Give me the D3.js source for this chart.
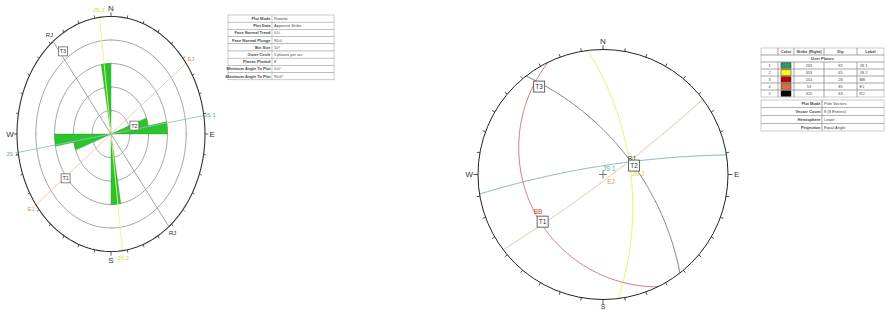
<!DOCTYPE html>
<html><head><meta charset="utf-8">
<script src="https://cdn.jsdelivr.net/npm/d3@7"></script>
<style>body{margin:0;background:#fff} svg{display:block;font-family:"Liberation Sans",Arial,sans-serif}</style>
</head><body><svg id="c" width="885" height="310"></svg>
<script>
// ---------- data ----------
const planeIds = ["1","2","3","4","5"];
const planeNames = ["JS 1","JS 2","BB","EJ","RJ"];
const planeStrikes = [261,353,154,53,322];
const planeDips = [82,65,26,85,63];
const swatchColors = ["#2e9a5e","#ffff00","#c00000","#e07030","#000000"];
const lineColors = ["#7dbcb2","#eeee66","#d07a7a","#ebc0a2","#808080"];
const rosetteLineColors = ["#8cc6bd","#f0f08a","#d08080","#ecc6aa","#9a9a9a"];
const labelColors = ["#5aa89a","#d6d640","#d04040","#d8905a","#333333"];
const rosetteShown = [true,true,false,true,true];

const binStarts = [70,80,170];      // apparent strike bins (deg), mirrored +180
const binCounts = [2,3,3];
const binSize = 10;
const outerCount = 5;

const markerNames = ["T1","T2","T3"];
const markerTrends = [232,74,324];
const markerPlunges = [27,61,8];

const compassLabels = ["N","E","S","W"];
const compassAz = [0,90,180,270];

const leftTableLabels = ["Plot Mode","Plot Data","Face Normal Trend","Face Normal Plunge","Bin Size","Outer Circle","Planes Plotted","Minimum Angle To Plot","Maximum Angle To Plot"];
const leftTableValues = ["Rosette","Apparent Strike","0.0","90.0","10°","5 planes per arc","8","0.0°","90.0°"];
const planeHeader = ["","Color","Strike (Right)","Dip","Label"];
const rightInfoLabels = ["Plot Mode","Vector Count","Hemisphere","Projection"];
const rightInfoValues = ["Pole Vectors","8 (8 Entries)","Lower","Equal Angle"];

// ---------- helpers ----------
const svg = d3.select("#c");
const rad = d => d*Math.PI/180;
const frac = p => Math.tan(rad((90-p)/2));   // equal angle

// ---------- LEFT: rosette ----------
const L = {cx:111, cy:134, rx:94, ry:117.5};
const lx = d3.scaleLinear().domain([-1,1]).range([L.cx-L.rx, L.cx+L.rx]);
const ly = d3.scaleLinear().domain([-1,1]).range([L.cy+L.ry, L.cy-L.ry]);
const lpt = (az,f) => [lx(f*Math.sin(rad(az))), ly(f*Math.cos(rad(az)))];
const gL = svg.append("g");
const ringLine = d3.line();

// rings
d3.range(1,outerCount).forEach(k=>{
  const f=k/outerCount;
  gL.append("path").attr("d", ringLine(d3.range(0,361,3).map(a=>lpt(a,f))))
    .attr("fill","none").attr("stroke","#9a9a9a").attr("stroke-width",0.9);
  compassAz.forEach(a=>{
    gL.append("path").attr("d", ringLine([lpt(a,f-0.012),lpt(a,f+0.012)]))
      .attr("stroke","#bbb").attr("stroke-width",0.8);
  });
});

// petals
binStarts.forEach((b,i)=>{
  [b, b+180].forEach(s=>{
    const f = binCounts[i]/outerCount;
    const pts = [lpt(0,0)].concat(d3.range(s, s+binSize+0.01, 1).map(a=>lpt(a,f)));
    gL.append("path").attr("d", d3.line()(pts)+"Z")
      .attr("fill","#2cc42c").attr("stroke","#23a023").attr("stroke-width",0.4);
  });
});

// strike lines
planeStrikes.forEach((s,i)=>{
  if(!rosetteShown[i]) return;
  gL.append("path").attr("d", ringLine([lpt(s,1),lpt(s+180,1)]))
    .attr("stroke",rosetteLineColors[i]).attr("stroke-width",0.9);
  [s, s+180].forEach(a=>{
    const p = lpt(a,1.065);
    gL.append("text").attr("x",p[0]).attr("y",p[1]).attr("dy","0.35em")
      .attr("text-anchor","middle").attr("font-size",6).attr("fill",labelColors[i]).text(planeNames[i]);
  });
});

// outer ellipse + ticks
gL.append("path").attr("d", ringLine(d3.range(0,361,2).map(a=>lpt(a,1))))
  .attr("fill","none").attr("stroke","#333").attr("stroke-width",1.1);
d3.range(0,360,10).forEach(a=>{
  const long = a%90===0;
  gL.append("path").attr("d", ringLine([lpt(a,1),lpt(a,long?1.035:1.025)]))
    .attr("stroke","#333").attr("stroke-width",0.8);
});
compassLabels.forEach((t,i)=>{
  const p = lpt(compassAz[i],1.075);
  gL.append("text").attr("x",p[0]).attr("y",p[1]).attr("dy","0.36em")
    .attr("text-anchor","middle").attr("font-size",8).attr("fill","#333").text(t);
});

// markers
markerNames.forEach((t,i)=>{
  const p = lpt(markerTrends[i], frac(markerPlunges[i]));
  gL.append("rect").attr("x",p[0]-4.5).attr("y",p[1]-4.5).attr("width",9).attr("height",9)
    .attr("fill","#fff").attr("stroke","#666").attr("stroke-width",0.8);
  gL.append("text").attr("x",p[0]).attr("y",p[1]).attr("dy","0.36em").attr("text-anchor","middle")
    .attr("font-size",5.5).attr("fill","#333").text(t);
});

// left table
const lt = {x0:228, x1:334, xs:272, y0:15, rh:7.2};
const gT = svg.append("g");
leftTableLabels.forEach((t,i)=>{
  const y = lt.y0 + i*lt.rh;
  gT.append("rect").attr("x",lt.x0).attr("y",y).attr("width",lt.x1-lt.x0).attr("height",lt.rh)
    .attr("fill","#fff").attr("stroke","#999").attr("stroke-width",0.5);
  gT.append("line").attr("x1",lt.xs).attr("x2",lt.xs).attr("y1",y).attr("y2",y+lt.rh).attr("stroke","#999").attr("stroke-width",0.5);
  gT.append("text").attr("x",lt.xs-1.5).attr("y",y+lt.rh/2).attr("dy","0.35em").attr("text-anchor","end")
    .attr("font-size",4).attr("font-weight","bold").attr("fill","#444").text(t);
  gT.append("text").attr("x",lt.xs+2).attr("y",y+lt.rh/2).attr("dy","0.35em")
    .attr("font-size",4).attr("fill","#444").text(leftTableValues[i]);
});

// ---------- RIGHT: stereonet ----------
const R = {cx:603, cy:174.5, r:125};
const rx = d3.scaleLinear().domain([-1,1]).range([R.cx-R.r, R.cx+R.r]);
const ry = d3.scaleLinear().domain([-1,1]).range([R.cy+R.r, R.cy-R.r]);
const rpt = (az,f) => [rx(f*Math.sin(rad(az))), ry(f*Math.cos(rad(az)))];
const gR = svg.append("g");

function greatCircle(strike, dip){
  const s=rad(strike), dd=rad(strike+90), d=rad(dip);
  const sv=[Math.cos(s),Math.sin(s),0];
  const dv=[Math.cos(dd)*Math.cos(d), Math.sin(dd)*Math.cos(d), Math.sin(d)];
  return d3.range(0,180.01,1).map(a=>{
    const ca=Math.cos(rad(a)), sa=Math.sin(rad(a));
    const v=[ca*sv[0]+sa*dv[0], ca*sv[1]+sa*dv[1], ca*sv[2]+sa*dv[2]];
    const pl = Math.asin(Math.max(-1,Math.min(1,v[2])))*180/Math.PI;
    const tr = Math.atan2(v[1],v[0])*180/Math.PI;
    return rpt(tr, frac(pl));
  });
}

planeStrikes.forEach((s,i)=>{
  gR.append("path").attr("d", d3.line()(greatCircle(s, planeDips[i])))
    .attr("fill","none").attr("stroke",lineColors[i]).attr("stroke-width",1);
});

// outer circle + ticks
gR.append("circle").attr("cx",R.cx).attr("cy",R.cy).attr("r",R.r)
  .attr("fill","none").attr("stroke","#222").attr("stroke-width",1);
d3.range(0,360,10).forEach(a=>{
  const long=a%90===0;
  gR.append("path").attr("d", d3.line()([rpt(a,1),rpt(a,long?1.035:1.025)]))
    .attr("stroke","#222").attr("stroke-width",0.8);
});
compassLabels.forEach((t,i)=>{
  const f = compassAz[i]===180 ? 1.058 : 1.07;
  const p = rpt(compassAz[i],f);
  gR.append("text").attr("x",p[0]).attr("y",p[1]).attr("dy","0.36em")
    .attr("text-anchor","middle").attr("font-size",compassAz[i]===180?7:8).attr("fill","#333").text(t);
});

// dip-vector labels
planeStrikes.forEach((s,i)=>{
  const p = rpt(s+90, frac(planeDips[i]));
  gR.append("text").attr("x",p[0]+1).attr("y",p[1]+2.5).attr("dy","0.36em")
    .attr("font-size",6.5).attr("fill",labelColors[i]).text(planeNames[i]);
});

// centre cross
const c0 = rpt(0,0);
gR.append("path").attr("d",`M${c0[0]-4},${c0[1]}H${c0[0]+4}M${c0[0]},${c0[1]-4}V${c0[1]+4}`)
  .attr("stroke","#666").attr("stroke-width",0.9);

// markers
markerNames.forEach((t,i)=>{
  const p = rpt(markerTrends[i], frac(markerPlunges[i]));
  gR.append("rect").attr("x",p[0]-5.5).attr("y",p[1]-5.5).attr("width",11).attr("height",11)
    .attr("fill","#fff").attr("stroke","#555").attr("stroke-width",0.9);
  gR.append("text").attr("x",p[0]).attr("y",p[1]).attr("dy","0.36em").attr("text-anchor","middle")
    .attr("font-size",6.5).attr("fill","#333").text(t);
});

// right table
const cols=[761,778,794,824,857,884];
const rt={y0:48, rh:7};
const gRT = svg.append("g").attr("font-size",4).attr("fill","#444");
function cell(x0,x1,y,h){
  gRT.append("rect").attr("x",x0).attr("y",y).attr("width",x1-x0).attr("height",h)
    .attr("fill","none").attr("stroke","#999").attr("stroke-width",0.5);
}
planeHeader.forEach((t,j)=>{
  cell(cols[j],cols[j+1],rt.y0,rt.rh);
  gRT.append("text").attr("x",(cols[j]+cols[j+1])/2).attr("y",rt.y0+rt.rh/2).attr("dy","0.35em")
    .attr("text-anchor","middle").attr("font-weight","bold").text(t);
});
cell(cols[0],cols[5],rt.y0+rt.rh,rt.rh);
gRT.append("text").attr("x",(cols[0]+cols[5])/2).attr("y",rt.y0+rt.rh*1.5).attr("dy","0.35em")
  .attr("text-anchor","middle").attr("font-weight","bold").text("User Planes");
planeNames.forEach((n,i)=>{
  const y=rt.y0+rt.rh*(2+i);
  const vals=[planeIds[i],"",String(planeStrikes[i]),String(planeDips[i]),n];
  vals.forEach((v,j)=>{
    cell(cols[j],cols[j+1],y,rt.rh);
    if(j===1){
      gRT.append("rect").attr("x",781).attr("y",y+0.8).attr("width",10).attr("height",rt.rh-1.6)
        .attr("fill",swatchColors[i]).attr("stroke","#222").attr("stroke-width",0.5);
    } else if(j===4){
      gRT.append("text").attr("x",cols[j]+2.5).attr("y",y+rt.rh/2).attr("dy","0.35em").text(v);
    } else {
      gRT.append("text").attr("x",(cols[j]+cols[j+1])/2).attr("y",y+rt.rh/2).attr("dy","0.35em")
        .attr("text-anchor","middle").text(v);
    }
  });
});
const it={y0:100, rh:7.75, xs:822};
rightInfoLabels.forEach((t,i)=>{
  const y=it.y0+i*it.rh;
  cell(cols[0],it.xs,y,it.rh); cell(it.xs,cols[5],y,it.rh);
  gRT.append("text").attr("x",it.xs-1.5).attr("y",y+it.rh/2).attr("dy","0.35em")
    .attr("text-anchor","end").attr("font-weight","bold").text(t);
  gRT.append("text").attr("x",it.xs+2).attr("y",y+it.rh/2).attr("dy","0.35em").text(rightInfoValues[i]);
});
</script></body></html>
